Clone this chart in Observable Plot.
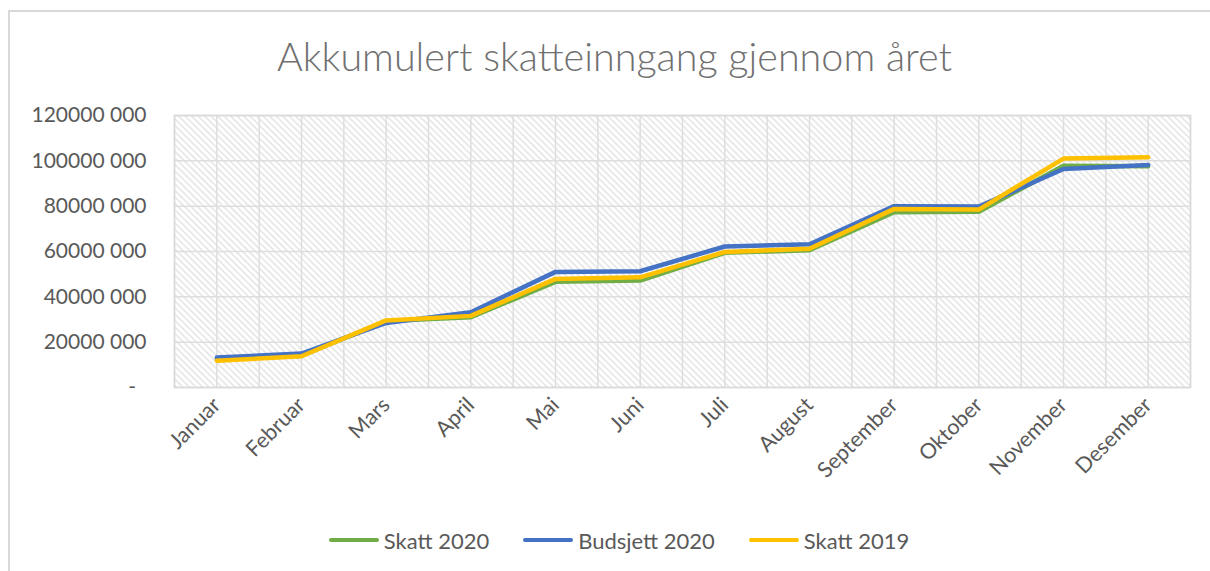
<!DOCTYPE html>
<html>
<head>
<meta charset="utf-8">
<script src="https://cdn.jsdelivr.net/npm/d3@7"></script>
<script src="https://cdn.jsdelivr.net/npm/@observablehq/plot@0.6"></script>
<style>
  html, body { margin: 0; padding: 0; background: #fff; }
  body { font-family: Lato, "Open Sans", sans-serif; }
  #wrap { position: relative; width: 1210px; height: 571px; overflow: hidden; }
  #border { position: absolute; left: 8px; top: 10px; width: 1210px; height: 600px;
            border-left: 2px solid #d9d9d9; border-top: 2px solid #d9d9d9; }
  #title { position: relative; height: 95px; text-align: center; padding-left: 19px; box-sizing: border-box;
           font-size: 39.5px; font-weight: 300; color: #707070; line-height: 44px; padding-top: 34px; white-space: nowrap; }
  #chart { position: relative; height: 420px; }
  #legend { position: relative; display: flex; justify-content: center; align-items: center; height: 50px;
            padding-left: 28px; font-size: 22px; color: #595959; }
  .item { display: flex; align-items: center; margin: 0 17px; }
  .sw { width: 50px; height: 4px; border-radius: 2px; margin-right: 5px; }
</style>
</head>
<body>
<div id="wrap">
  <div id="border"></div>
  <div id="title">Akkumulert skatteinngang gjennom året</div>
  <div id="chart"></div>
  <div id="legend"></div>
</div>
<script>
const months = ["Januar", "Februar", "Mars", "April", "Mai", "Juni", "Juli", "August", "September", "Oktober", "November", "Desember"];
const seriesNames = ["Skatt 2020", "Budsjett 2020", "Skatt 2019"];
const seriesColors = ["#70AD47", "#4472C4", "#FFC000"];
const skatt2020 = [12300000, 14000000, 29300000, 31000000, 46600000, 47200000, 59400000, 60600000, 77300000, 77500000, 97800000, 97600000];
const budsjett2020 = [13200000, 15000000, 28500000, 33200000, 51000000, 51300000, 62200000, 63200000, 80000000, 79800000, 96400000, 98200000];
const skatt2019 = [11800000, 13800000, 29600000, 31600000, 47900000, 48600000, 59800000, 61200000, 78800000, 78500000, 101000000, 101600000];
const yTicks = [0, 20000000, 40000000, 60000000, 80000000, 100000000, 120000000];

const seriesValues = [skatt2020, budsjett2020, skatt2019];
const rows = [];
seriesValues.forEach((vals, s) => vals.forEach((v, i) => rows.push({ m: i + 1, v, s: seriesNames[s] })));

const fmt = d => d === 0 ? "-\u2002" : `${Math.round(d / 1000)} 000`;
const monthIdx = d3.range(1, months.length + 1);
const halfSteps = d3.range(0.5, months.length + 0.51, 0.5);

const svg = Plot.plot({
  width: 1210,
  height: 420,
  marginLeft: 174,
  marginRight: 20,
  marginTop: 20,
  marginBottom: 128,
  style: { fontFamily: "Lato, 'Open Sans', sans-serif", fontSize: "21px", color: "#595959", background: "transparent" },
  x: { type: "linear", domain: [0.5, months.length + 0.5] },
  y: { domain: [0, 120000000] },
  color: { domain: seriesNames, range: seriesColors },
  marks: [
    Plot.frame({ fill: "url(#hatch)" }),
    Plot.gridY(yTicks, { stroke: "#dedede", strokeOpacity: 1, strokeWidth: 1.5 }),
    Plot.gridX(halfSteps, { stroke: "#dedede", strokeOpacity: 1, strokeWidth: 1.5 }),
    Plot.frame({ stroke: "#d9d9d9", strokeWidth: 1.5 }),
    Plot.axisY(yTicks, { tickFormat: fmt, tickSize: 0, tickPadding: 28, label: null }),
    Plot.axisX(monthIdx, { tickFormat: i => months[i - 1], tickRotate: -45, tickSize: 0, tickPadding: 14, label: null, fontSize: 21.5 }),
    Plot.line(rows, { x: "m", y: "v", z: "s", stroke: "s", strokeWidth: 4.5, strokeLinejoin: "round", strokeLinecap: "round" })
  ]
});

const defs = d3.select(svg).insert("defs", ":first-child");
const pat = defs.append("pattern").attr("id", "hatch").attr("patternUnits", "userSpaceOnUse")
  .attr("width", 4.6).attr("height", 10).attr("patternTransform", "rotate(-45)");
pat.append("rect").attr("width", 4.6).attr("height", 10).attr("fill", "#fff");
pat.append("line").attr("x1", 1).attr("x2", 1).attr("y1", 0).attr("y2", 10)
  .attr("stroke", "#e0e0e0").attr("stroke-width", 1.3);

document.getElementById("chart").appendChild(svg);

const legend = d3.select("#legend");
seriesNames.forEach((n, i) => {
  const it = legend.append("div").attr("class", "item");
  it.append("div").attr("class", "sw").style("background", seriesColors[i]);
  it.append("span").text(n);
});
</script>
</body>
</html>
